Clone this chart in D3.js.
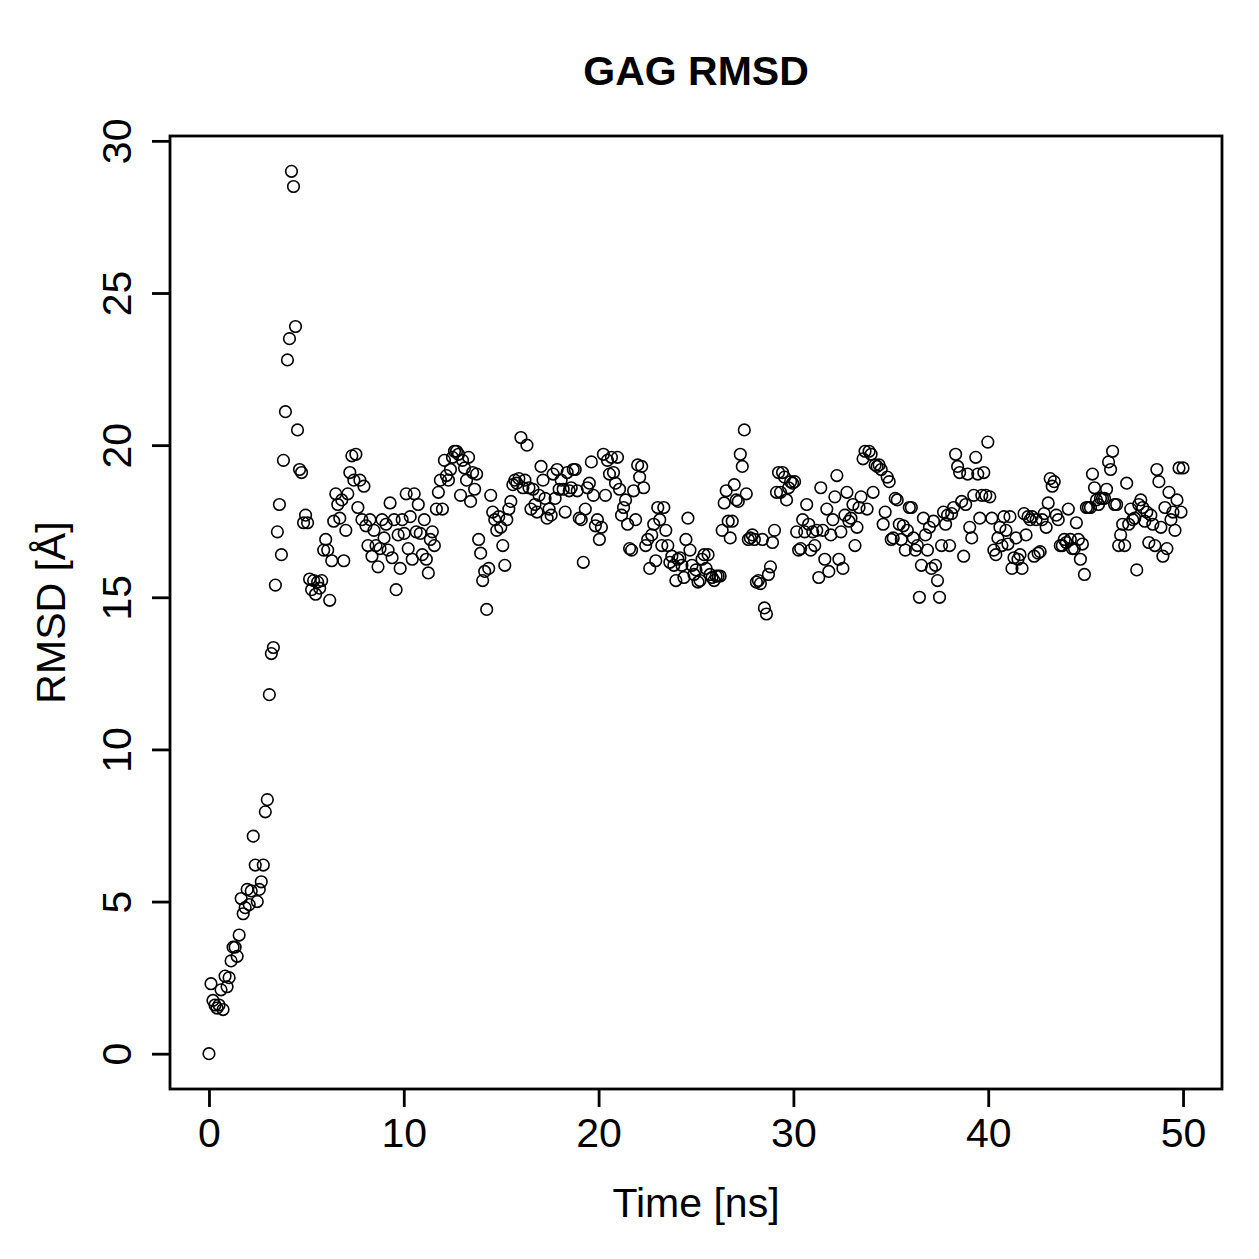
<!DOCTYPE html>
<html>
<head>
<meta charset="utf-8">
<script src="https://cdn.jsdelivr.net/npm/d3@7"></script>
<style>
  body { margin: 0; background: #fff; }
  svg text { font-family: "Liberation Sans", Arial, Helvetica, sans-serif; fill: #000; }
</style>
</head>
<body>
<div id="chart-container"></div>
<script>
// RMSD values, one every frame (ns 0 -> 50)
var rmsdRise = [0, 2.3, 1.75, 1.6, 1.5, 1.6, 2.1, 1.45, 2.55, 2.2, 2.5, 3.05, 3.5, 3.5, 3.2, 3.9, 5.1, 4.6, 4.8,
  5.4, 4.9, 5.35, 7.15, 6.2, 5.0, 5.4, 5.65, 6.2, 7.95, 8.35, 11.8, 13.15, 13.35, 15.4, 17.15, 18.05, 16.4, 19.5,
  21.1, 22.8, 23.5, 29.0, 28.5, 23.9, 20.5, 19.2, 19.1, 17.45, 17.7, 17.45];

var rmsdFirstHalf = [15.6, 15.25, 15.55, 15.1, 15.5, 15.3, 15.55, 16.55, 16.9, 16.55, 14.9, 16.2, 17.5, 18.4, 18.05, 17.6,
  18.2, 16.2, 17.2, 18.4, 19.1, 19.65, 18.85, 19.7, 17.95, 18.85, 17.55, 18.65, 17.35, 16.7, 17.55, 16.35, 17.2, 16.7,
  16.0, 16.6, 17.55, 16.95, 17.4, 16.55, 18.1, 16.3, 17.55, 15.25, 17.05, 15.95, 17.55, 17.1, 18.4, 16.6, 17.65, 16.25,
  18.4, 17.15, 18.05, 17.1, 16.4, 17.55, 16.25, 15.8, 16.9, 17.15, 16.7, 17.9, 18.45, 18.85, 17.9, 19.5, 19.0, 18.85,
  19.2, 19.6, 19.8, 19.8, 19.7, 18.35, 19.5, 19.25, 18.85, 19.6, 18.15, 19.1, 18.55, 19.05, 16.9, 16.45, 15.55, 15.85,
  14.6, 15.95, 18.35, 17.8, 17.55, 17.2, 17.65, 17.3, 16.7, 16.05, 17.55, 17.9, 18.15, 18.7, 18.85, 18.75, 18.9, 20.25,
  18.6, 18.85, 20.0, 18.6, 17.9, 18.55, 18.05, 17.8, 18.35, 19.3, 18.85, 18.25, 17.6, 17.9, 17.7, 19.05, 18.25, 19.2,
  18.55, 18.85, 18.55, 17.8, 19.1, 18.5, 18.6, 19.2, 19.2, 18.5, 17.6, 17.55, 16.15, 17.9, 18.6, 18.75, 19.45, 18.35,
  17.35, 17.55, 16.9, 17.3, 19.7, 18.35, 19.5, 19.05, 19.6, 19.1, 18.75, 19.6, 18.55, 17.7, 17.95, 18.2, 17.4, 16.6,
  16.55, 18.5, 17.55, 19.35, 18.95, 19.3, 18.6, 16.7, 16.9, 15.95, 17.05, 17.4, 16.2, 17.95, 17.55, 16.7, 17.95, 17.2,
  16.7, 16.15, 16.35, 16.05, 15.55, 16.25, 16.3, 16.05, 15.65, 16.9, 17.6, 16.55, 16.05, 15.75, 15.9, 15.5, 15.55,
  16.25, 16.4, 15.95, 16.4, 15.75, 15.65, 15.55, 15.7, 15.7, 15.7];

var rmsdSecondHalf = [17.2, 18.1, 18.5, 17.5, 16.95, 17.5, 18.7, 18.2, 18.15, 19.7, 19.3, 20.5, 18.4, 16.9, 16.95, 17.05,
  16.9, 15.5, 15.55, 15.45, 16.9, 14.65, 14.45, 15.75, 16.0, 16.8, 17.2, 18.45, 19.1, 18.45, 19.1, 18.95, 18.2, 18.6,
  18.8, 18.75, 18.8, 17.15, 16.55, 16.6, 17.55, 17.15, 18.05, 17.4, 16.55, 17.15, 16.7, 17.2, 15.65, 18.6, 17.2, 16.25,
  17.9, 15.85, 17.05, 17.55, 18.3, 19.0, 16.25, 17.15, 15.95, 17.7, 18.45, 17.5, 17.6, 18.05, 16.7, 17.3, 17.95, 18.3,
  19.55, 19.8, 17.9, 19.8, 19.7, 18.45, 19.35, 19.3, 19.35, 19.2, 17.4, 17.8, 18.95, 18.8, 16.9, 16.95, 18.25, 18.2,
  17.4, 16.9, 17.35, 16.55, 17.2, 17.95, 17.95, 16.95, 16.55, 16.7, 15.0, 16.05, 17.6, 17.05, 16.55, 17.3, 15.95, 17.5,
  16.05, 15.55, 15.0, 16.7, 17.8, 17.4, 17.7, 16.7, 17.75, 17.95, 19.7, 19.3, 19.1, 18.15, 16.35, 18.05, 19.05, 17.3,
  16.95, 18.35, 19.6, 19.05, 17.6, 18.35, 19.1, 18.35, 20.1, 18.3, 17.6, 16.55, 16.4, 16.95, 17.3, 16.7, 17.65, 17.2,
  16.75, 17.65, 15.95, 16.3, 16.95, 16.25, 16.4, 15.95, 17.75, 17.05, 17.65, 17.55, 17.65, 16.35, 17.55, 16.45, 16.5,
  17.55, 17.75, 17.3, 18.1, 18.9, 18.65, 18.8, 17.7, 17.55, 16.7, 16.7, 16.9, 16.8, 17.9, 16.9, 16.6, 16.6, 17.45,
  16.9, 16.25, 16.75, 15.75, 17.95, 17.95, 17.95, 19.05, 18.6, 18.2, 18.05, 18.25, 18.25, 18.25, 18.55, 19.45, 19.2,
  19.8, 18.05, 18.05, 16.7, 17.05, 17.4, 16.7, 18.75, 17.4, 17.9, 17.55, 17.6, 15.9, 18.05, 18.2, 17.95, 17.5, 17.8,
  16.8, 17.7, 17.4, 16.7, 19.2, 18.8, 17.3, 16.35, 17.95, 16.6, 18.45, 17.55, 17.8, 17.2, 18.2, 19.25, 17.8, 19.25];

var timeStart = 0, timeEnd = 50;
var xTicks = [0, 10, 20, 30, 40, 50];
var yTicks = [0, 5, 10, 15, 20, 25, 30];
var chartTitle = "GAG RMSD";
var xLabel = "Time [ns]";
var yLabel = "RMSD [\u00C5]";

var W = 1259, H = 1259;
var box = {left: 170, right: 1222, top: 136, bottom: 1089};

var rmsd = rmsdRise.concat(rmsdFirstHalf, rmsdSecondHalf);
var n = rmsd.length;
var data = rmsd.map(function(v, i) {
    return {t: timeStart + i * (timeEnd - timeStart) / (n - 1), r: v};
});

var svg = d3.select("#chart-container")
    .append("svg")
    .attr("width", W)
    .attr("height", H);

// R style 4% padding
var xExt = d3.extent(data, function(d) { return d.t; });
var yExt = d3.extent(data, function(d) { return d.r; });
var xPad = (xExt[1] - xExt[0]) * 0.04, yPad = (yExt[1] - yExt[0]) * 0.04;

var x = d3.scaleLinear()
    .domain([xExt[0] - xPad, xExt[1] + xPad])
    .range([box.left, box.right]);

var y = d3.scaleLinear()
    .domain([yExt[0] - yPad, yExt[1] + yPad])
    .range([box.bottom, box.top]);

var fontPx = 41;

// x axis
var xAxis = svg.append("g")
    .attr("class", "x-axis")
    .attr("transform", "translate(0," + box.bottom + ")")
    .call(d3.axisBottom(x).tickValues(xTicks).tickSize(18).tickSizeOuter(0).tickPadding(11));
xAxis.select(".domain").remove();
xAxis.selectAll("line").attr("stroke", "#000").attr("stroke-width", 2.8);
xAxis.selectAll("text").attr("font-size", fontPx).attr("fill", "#000");

// y axis, labels parallel to the axis like R
var yAxis = svg.append("g")
    .attr("class", "y-axis")
    .attr("transform", "translate(" + box.left + ",0)")
    .call(d3.axisLeft(y).tickValues(yTicks).tickSize(18).tickSizeOuter(0));
yAxis.select(".domain").remove();
yAxis.selectAll("line").attr("stroke", "#000").attr("stroke-width", 2.8);
yAxis.selectAll("text")
    .attr("font-size", fontPx)
    .attr("fill", "#000")
    .attr("x", null).attr("dy", null)
    .attr("text-anchor", "middle")
    .attr("transform", "translate(-39,0) rotate(-90)");

// box
svg.append("rect")
    .attr("x", box.left)
    .attr("y", box.top)
    .attr("width", box.right - box.left)
    .attr("height", box.bottom - box.top)
    .attr("fill", "none")
    .attr("stroke", "#000")
    .attr("stroke-width", 2.8);

// points
svg.append("g")
    .selectAll("circle")
    .data(data)
    .enter()
    .append("circle")
    .attr("cx", function(d) { return x(d.t); })
    .attr("cy", function(d) { return y(d.r); })
    .attr("r", 5.8)
    .attr("fill", "none")
    .attr("stroke", "#000")
    .attr("stroke-width", 1.6);

// titles
svg.append("text")
    .attr("x", (box.left + box.right) / 2)
    .attr("y", 85)
    .attr("text-anchor", "middle")
    .attr("font-size", 41)
    .attr("font-weight", "bold")
    .text(chartTitle);

svg.append("text")
    .attr("x", (box.left + box.right) / 2)
    .attr("y", 1217)
    .attr("text-anchor", "middle")
    .attr("font-size", fontPx)
    .text(xLabel);

svg.append("text")
    .attr("transform", "translate(65," + ((box.top + box.bottom) / 2) + ") rotate(-90)")
    .attr("text-anchor", "middle")
    .attr("font-size", fontPx)
    .text(yLabel);
</script>
</body>
</html>
